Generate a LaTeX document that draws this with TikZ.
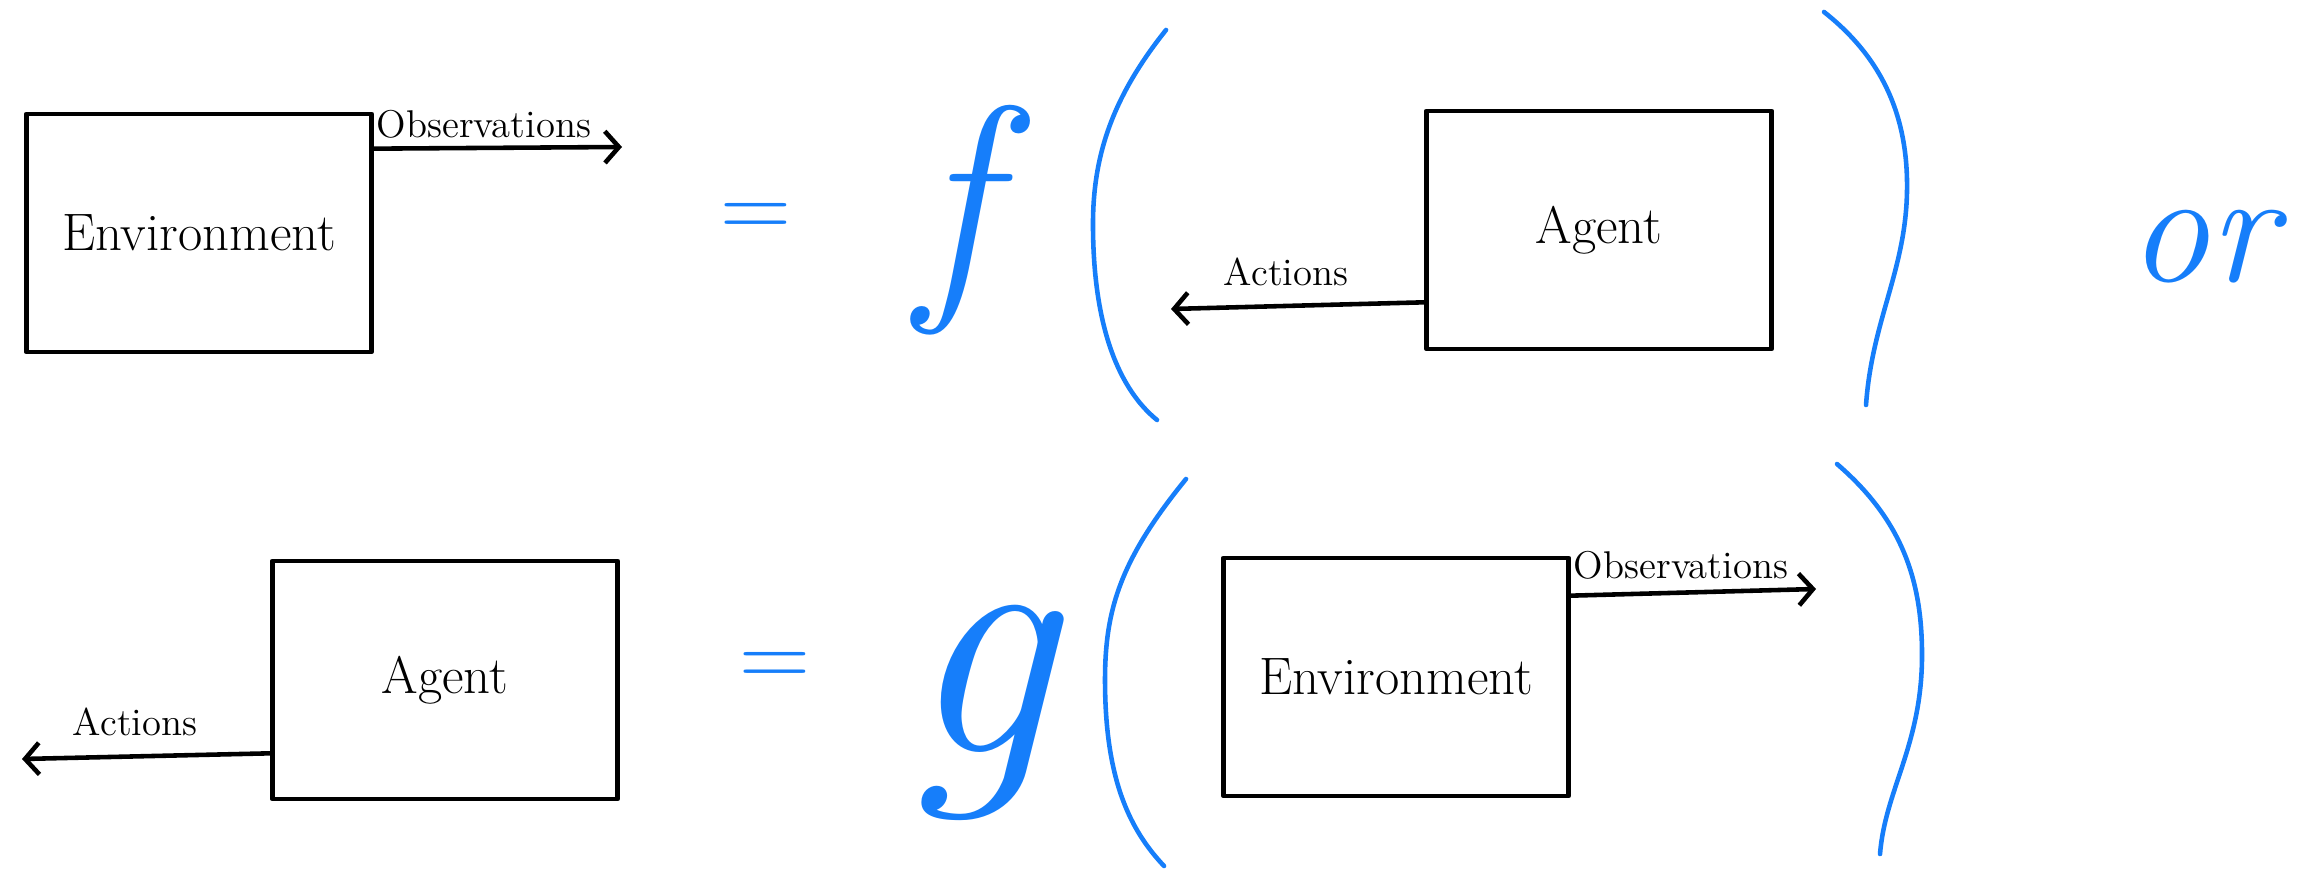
\documentclass[tikz,border=0pt]{standalone}
\usepackage{fontspec}
\usetikzlibrary{arrows.meta,calc}
\definecolor{penblue}{RGB}{22,126,250}
\begin{document}
\begin{tikzpicture}[x=0.01cm,y=-0.01cm,
  stroke/.style={line width=1.3pt,line cap=round,line join=round},
  box/.style={stroke,draw=black,minimum width=3.45cm,minimum height=2.38cm,inner sep=0pt,font=\fontsize{15}{17}\selectfont},
  arr/.style={stroke,-{Straight Barb[length=4pt,width=9pt]}},
  lbl/.style={font=\fontsize{11}{13}\selectfont,inner sep=0pt},
  bluetext/.style={text=penblue,inner sep=0pt},
  paren/.style={stroke,draw=penblue}
]
\useasboundingbox (0,0) rectangle (2310,877);

% boxes
\node[box] (env1) at (199,233) {Environment};
\node[box] (agent1) at (1599,230) {Agent};
\node[box] (agent2) at (445,680) {Agent};
\node[box] (env2) at (1396,677) {Environment};

% arrow ends
\coordinate (obs1end) at (622,147);
\coordinate (act1end) at (1171,309);
\coordinate (act2end) at (22,759);
\coordinate (obs2end) at (1816,589);

\draw[arr] ([yshift=-0.37cm]env1.north east) -- (obs1end);
\draw[arr] ([yshift=0.49cm]agent1.south west) -- (act1end);
\draw[arr] ([yshift=0.48cm]agent2.south west) -- (act2end);
\draw[arr] ([yshift=-0.40cm]env2.north east) -- (obs2end);

% labels
\node[lbl] (obs1lbl) at (484,124) {Observations};
\node[lbl] (act1lbl) at (1286,272) {Actions};
\node[lbl] (act2lbl) at (135,722) {Actions};
\node[lbl] (obs2lbl) at (1681,565) {Observations};

% blue math
\node[bluetext,font=\fontsize{28}{30}\selectfont] (eq1) at (756,221) {=};
\node[bluetext,font=\fontsize{72}{72}\selectfont\itshape] (fname) at (955,220) {f};
\node[bluetext,font=\fontsize{28}{30}\selectfont] (eq2) at (775,670) {=};
\node[bluetext,font=\fontsize{95}{95}\selectfont\itshape] (gname) at (980,713) {g};
\node[bluetext,font=\fontsize{46}{46}\selectfont\itshape,anchor=base west] (ortext) at (2128,282) {or};

% parentheses
\draw[paren] (1166,30) .. controls (1110,100) and (1092,160) .. (1093,230)
             .. controls (1094,330) and (1120,390) .. (1157,420);
\draw[paren] (1824,12) .. controls (1885,60) and (1908,120) .. (1907,190)
             .. controls (1906,270) and (1872,320) .. (1866,405);
\draw[paren] (1186,479) .. controls (1120,560) and (1105,610) .. (1105,680)
             .. controls (1105,780) and (1130,830) .. (1164,866);
\draw[paren] (1837,464) .. controls (1902,520) and (1922,580) .. (1922,655)
             .. controls (1922,745) and (1885,790) .. (1880,854);
\end{tikzpicture}
\end{document}
